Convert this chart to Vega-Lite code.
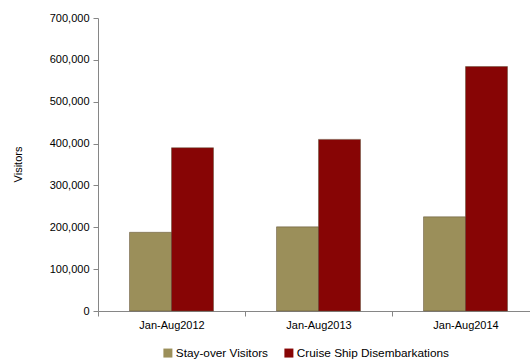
{
  "$schema": "https://vega.github.io/schema/vega-lite/v6.json",
  "width": 432,
  "height": 293,
  "autosize": {"type": "none"},
  "padding": {"left": 98, "top": 18, "right": 0, "bottom": 49},
  "background": "white",
  "config": {
    "font": "Liberation Sans",
    "view": {"stroke": null},
    "axis": {
      "grid": false,
      "labelFont": "Liberation Sans",
      "labelFontSize": 11,
      "labelColor": "#000000",
      "domainColor": "#868686",
      "tickColor": "#868686",
      "tickSize": 5,
      "titleFont": "Liberation Sans",
      "titleFontSize": 11,
      "titleFontWeight": "normal",
      "titleColor": "#000000"
    },
    "legend": {
      "labelFont": "Liberation Sans",
      "labelFontSize": 11.8,
      "labelColor": "#000000"
    }
  },
  "data": {
    "values": [
      {"period": "Jan-Aug2012", "series": "Stay-over Visitors", "visitors": 188000},
      {"period": "Jan-Aug2012", "series": "Cruise Ship Disembarkations", "visitors": 390000},
      {"period": "Jan-Aug2013", "series": "Stay-over Visitors", "visitors": 201000},
      {"period": "Jan-Aug2013", "series": "Cruise Ship Disembarkations", "visitors": 410000},
      {"period": "Jan-Aug2014", "series": "Stay-over Visitors", "visitors": 225000},
      {"period": "Jan-Aug2014", "series": "Cruise Ship Disembarkations", "visitors": 584000}
    ]
  },
  "mark": {"type": "bar", "strokeWidth": 0.8, "stroke": "#5a4a30", "strokeOpacity": 0.6},
  "encoding": {
    "x": {
      "field": "period",
      "type": "nominal",
      "sort": null,
      "title": null,
      "scale": {"range": [0, 441], "paddingInner": 0, "paddingOuter": 0},
      "axis": {"labelAngle": 0, "tickBand": "extent", "labelPadding": 3}
    },
    "xOffset": {
      "field": "series",
      "type": "nominal",
      "sort": ["Stay-over Visitors", "Cruise Ship Disembarkations"],
      "scale": {"paddingInner": 0, "paddingOuter": 0.75}
    },
    "y": {
      "field": "visitors",
      "type": "quantitative",
      "title": "Visitors",
      "scale": {"domain": [0, 700000], "nice": false},
      "axis": {
        "values": [0, 100000, 200000, 300000, 400000, 500000, 600000, 700000],
        "format": ",d",
        "labelPadding": 4,
        "titleX": -80,
        "titleY": 146,
        "titleAngle": -90,
        "titleAlign": "center",
        "titleBaseline": "middle"
      }
    },
    "color": {
      "field": "series",
      "type": "nominal",
      "sort": ["Stay-over Visitors", "Cruise Ship Disembarkations"],
      "scale": {
        "domain": ["Stay-over Visitors", "Cruise Ship Disembarkations"],
        "range": ["#9B8F5A", "#870505"]
      },
      "legend": {
        "title": null,
        "orient": "none",
        "direction": "horizontal",
        "legendX": 64,
        "legendY": 329,
        "symbolType": "square",
        "symbolSize": 81,
        "symbolStrokeWidth": 0,
        "labelOffset": 2,
        "columnPadding": 14
      }
    }
  }
}
